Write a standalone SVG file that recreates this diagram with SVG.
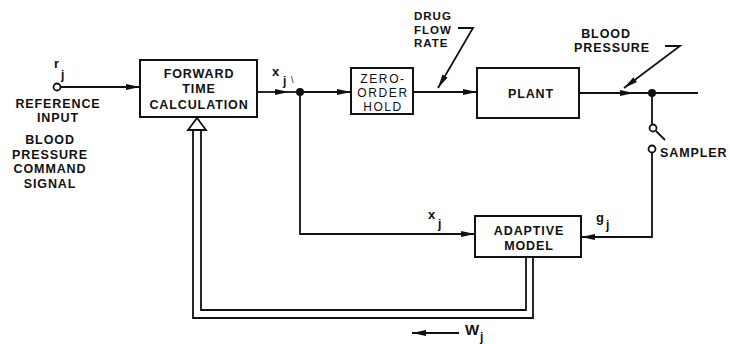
<svg xmlns="http://www.w3.org/2000/svg" width="730" height="344" viewBox="0 0 730 344">
<defs>
<style>
.t{font-family:"Liberation Sans",Arial,sans-serif;font-weight:bold;font-size:12.5px;letter-spacing:0.9px;fill:#111;text-anchor:middle}
.z{font-family:"Liberation Sans",Arial,sans-serif;font-weight:normal;font-size:12px;letter-spacing:1.6px;fill:#111;text-anchor:middle}
.d{font-family:"Liberation Sans",Arial,sans-serif;font-weight:bold;font-size:11.5px;letter-spacing:1px;fill:#111}
.s{font-family:"Liberation Sans",Arial,sans-serif;font-weight:bold;font-size:13px;fill:#111}
.box{fill:#fff;stroke:#111;stroke-width:2}
.ln{fill:none;stroke:#111;stroke-width:1.8}
</style>
<marker id="ar" viewBox="0 0 14 8" refX="14" refY="4" markerWidth="14" markerHeight="8" markerUnits="userSpaceOnUse" orient="auto">
<path d="M0,1 L14,4 L0,7 Z" fill="#111"/>
</marker>
</defs>
<rect width="730" height="344" fill="#fff"/>

<g id="connectors">
<circle cx="57" cy="87" r="3.5" class="ln"/>
<line x1="60.5" y1="87" x2="140" y2="87" class="ln" marker-end="url(#ar)"/>
<line x1="257" y1="92" x2="289" y2="92" class="ln" marker-end="url(#ar)"/>
<line x1="289" y1="92" x2="300" y2="92" class="ln"/>
<line x1="300" y1="92" x2="351" y2="92" class="ln" marker-end="url(#ar)"/>
<line x1="413" y1="92" x2="477" y2="92" class="ln" marker-end="url(#ar)"/>
<line x1="579" y1="93" x2="634" y2="93" class="ln" marker-end="url(#ar)"/>
<line x1="634" y1="93" x2="698" y2="93" class="ln"/>
<circle cx="300" cy="92" r="4" fill="#111"/>
<circle cx="652" cy="93" r="4" fill="#111"/>
<line x1="652" y1="93" x2="652" y2="124.5" class="ln"/>
<circle cx="653" cy="128" r="3.5" class="ln"/>
<line x1="656" y1="131" x2="665" y2="140" class="ln"/>
<circle cx="652" cy="149" r="3.5" class="ln"/>
<polyline points="652,152.5 652,237 581,237" class="ln" marker-end="url(#ar)"/>
<polyline points="300,92 300,234 475,234" class="ln" marker-end="url(#ar)"/>
<polyline points="458,28 473,28 438,88" class="ln" marker-end="url(#ar)"/>
<polyline points="665,46 680,46 624,88" class="ln" marker-end="url(#ar)"/>
<polyline points="526,257 526,310 201,310 201,130" class="ln"/>
<polyline points="533,257 533,318 193,318 193,130" class="ln"/>
<path d="M197,118 L188,130 L206,130 Z" fill="#fff" stroke="#111" stroke-width="1.8" stroke-linejoin="miter"/>
<line x1="459" y1="333" x2="412" y2="333" class="ln" marker-end="url(#ar)"/>
</g>

<g id="forward">
<rect x="140" y="60" width="117" height="57" class="box"/>
<text x="199" y="78" class="t">FORWARD</text>
<text x="199" y="93" class="t">TIME</text>
<text x="199" y="109" class="t">CALCULATION</text>
</g>

<g id="zoh">
<rect x="351" y="68" width="62" height="46" class="box"/>
<text x="383" y="83" class="z">ZERO-</text>
<text x="383" y="97" class="z">ORDER</text>
<text x="383" y="111" class="z">HOLD</text>
</g>

<g id="plant">
<rect x="477" y="68" width="102" height="50" class="box"/>
<text x="531" y="98" class="t">PLANT</text>
</g>

<g id="adaptive">
<rect x="475" y="216" width="106" height="41" class="box"/>
<text x="529" y="235" class="t">ADAPTIVE</text>
<text x="529" y="250" class="t">MODEL</text>
</g>

<g id="labels">
<text x="54" y="68" class="s">r<tspan x="61" y="79" font-size="12">j</tspan></text>
<text x="58" y="108" class="t">REFERENCE</text>
<text x="58" y="122" class="t">INPUT</text>
<text x="50" y="144" class="t">BLOOD</text>
<text x="50" y="159" class="t">PRESSURE</text>
<text x="50" y="173" class="t">COMMAND</text>
<text x="50" y="188" class="t">SIGNAL</text>
<text x="272" y="76" class="s">x<tspan x="283" y="85" font-size="12">j</tspan><tspan x="291" y="83" font-size="9" font-weight="normal">\</tspan></text>
<text x="414" y="20" class="d">DRUG</text>
<text x="414" y="33.5" class="d">FLOW</text>
<text x="414" y="47" class="d">RATE</text>
<text x="606" y="38" class="t">BLOOD</text>
<text x="612" y="52" class="t">PRESSURE</text>
<text x="660" y="157" class="t" style="text-anchor:start">SAMPLER</text>
<text x="428" y="219" class="s">x<tspan x="438" y="228" font-size="12">j</tspan></text>
<text x="596" y="222" class="s">g<tspan x="606" y="229" font-size="12">j</tspan></text>
<text x="465" y="335" class="s" style="font-size:15px">W<tspan x="480" y="341" font-size="12">j</tspan></text>
</g>
</svg>
